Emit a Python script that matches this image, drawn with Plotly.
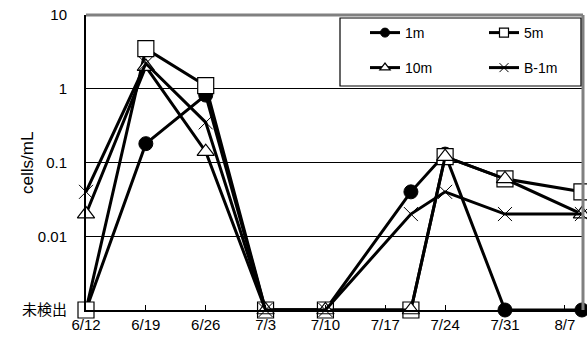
import plotly.graph_objects as go

# ---- data ----
dates = ["2008-06-12", "2008-06-19", "2008-06-26", "2008-07-03", "2008-07-10",
         "2008-07-20", "2008-07-24", "2008-07-31", "2008-08-09"]
# None = not detected (未検出)
m1 = [None, 0.18, 0.82, None, None, 0.04, 0.13, None, None]
m5 = [None, 3.5, 1.1, None, None, None, 0.12, 0.06, 0.04]
m10 = [0.02, 2.0, 0.14, None, None, None, 0.12, 0.06, 0.02]
b1m = [0.04, 2.2, 0.35, None, None, 0.02, 0.04, 0.02, 0.02]

tick_dates = ["2008-06-12", "2008-06-19", "2008-06-26", "2008-07-03", "2008-07-10",
              "2008-07-17", "2008-07-24", "2008-07-31", "2008-08-07"]
tick_labels = ["6/12", "6/19", "6/26", "7/3", "7/10", "7/17", "7/24", "7/31", "8/7"]
y_tickvals = [0.001, 0.01, 0.1, 1, 10]
y_ticktext = ["未検出", "0.01", "0.1", "1", "10"]
ND_LEVEL = 0.001

FONT = "Liberation Sans, Arial, Noto Sans CJK JP, sans-serif"


def nd(vals):
    return [ND_LEVEL if v is None else v for v in vals]


series = [
    ("1m", m1, dict(symbol="circle", color="black", line=dict(color="black", width=1)), 14, "legend"),
    ("5m", m5, dict(symbol="square", color="white", line=dict(color="black", width=1.2)), 16, "legend"),
    ("10m", m10, dict(symbol="triangle-up", color="white", line=dict(color="black", width=1.2)), 15, "legend2"),
    ("B-1m", b1m, dict(symbol="x-thin-open", color="black", line=dict(color="black", width=1)), 14, "legend2"),
]

fig = go.Figure()
for name, vals, mk, size, _ in series:
    fig.add_trace(go.Scatter(
        x=dates, y=nd(vals), mode="lines+markers", name=name,
        line=dict(color="black", width=3),
        marker=dict(size=size, **mk),
        cliponaxis=False, showlegend=False,
    ))
# legend-only entries (small symbols like the original legend)
for name, vals, mk, size, lg in series:
    fig.add_trace(go.Scatter(
        x=[None], y=[None], mode="lines+markers", name=name,
        line=dict(color="black", width=3),
        marker=dict(size=9, **mk),
        legend=lg, showlegend=True,
    ))

L, R, T, B = 86, 4, 15, 30
W, H = 587, 340
pw, ph = W - L - R, H - T - B


def px_x(x):
    return (x - L) / pw


def px_y(y):
    return (H - B - y) / ph


fig.update_layout(
    width=W, height=H,
    margin=dict(l=L, r=R, t=T, b=B, pad=0, autoexpand=False),
    paper_bgcolor="white", plot_bgcolor="white",
    font=dict(family=FONT, size=15, color="black"),
    xaxis=dict(
        type="date", automargin=False,
        range=["2008-06-12", "2008-08-09 03:00"],
        tickvals=tick_dates, ticktext=tick_labels,
        ticks="inside", ticklen=5, tickcolor="black", tickwidth=1,
        showline=True, linecolor="black", linewidth=2,
        showgrid=False, zeroline=False,
        tickfont=dict(size=15),
    ),
    yaxis=dict(
        type="log", range=[-3, 1], automargin=False,
        tickvals=y_tickvals, ticktext=y_ticktext,
        ticks="", ticklabelstandoff=14,
        showline=True, linecolor="black", linewidth=2,
        showgrid=True, gridcolor="black", gridwidth=1,
        zeroline=False,
        tickfont=dict(size=15),
    ),
    legend=dict(
        orientation="h", x=px_x(365), xanchor="left", y=px_y(33), yanchor="middle",
        bgcolor="rgba(0,0,0,0)", borderwidth=0, entrywidth=74,
        font=dict(size=14), itemclick=False,
    ),
    legend2=dict(
        orientation="h", x=px_x(365), xanchor="left", y=px_y(68), yanchor="middle",
        bgcolor="rgba(0,0,0,0)", borderwidth=0, entrywidth=74,
        font=dict(size=14), itemclick=False,
    ),
    shapes=[
        dict(type="line", xref="paper", yref="paper", x0=0, x1=1, y0=1, y1=1,
             line=dict(color="#808080", width=3), layer="above"),
        dict(type="line", xref="paper", yref="paper", x0=1, x1=1, y0=0, y1=1,
             line=dict(color="#808080", width=3), layer="above"),
        dict(type="rect", xref="paper", yref="paper",
             x0=px_x(340), x1=px_x(581), y0=px_y(86), y1=px_y(18),
             line=dict(color="black", width=1.2), fillcolor="white", layer="above"),
    ],
    annotations=[
        dict(text="cells/mL", xref="paper", yref="paper", x=px_x(27), y=px_y(163),
             xanchor="center", yanchor="middle", textangle=-90, showarrow=False,
             font=dict(size=17)),
    ],
)

fig.write_html("out.html", config={"displayModeBar": False},
               post_script="document.body.style.margin='0px';document.body.style.overflow='hidden';")
